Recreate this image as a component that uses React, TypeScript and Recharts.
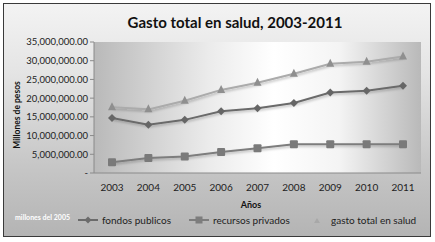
import React from 'react';
import { LineChart, Line, XAxis, YAxis, CartesianGrid } from 'recharts';

const years = ['2003', '2004', '2005', '2006', '2007', '2008', '2009', '2010', '2011'];
const fondosPublicos = [14.7, 12.9, 14.2, 16.5, 17.3, 18.7, 21.5, 22.0, 23.3];
const recursosPrivados = [2.9, 4.0, 4.4, 5.6, 6.6, 7.7, 7.7, 7.7, 7.7];
const gastoTotal = [17.6, 17.0, 19.3, 22.2, 24.1, 26.5, 29.2, 29.7, 31.1];
const yTicks = [0, 5, 10, 15, 20, 25, 30, 35];

const data = years.map((year, i) => ({
  year,
  fondos: fondosPublicos[i] * 1000000,
  privados: recursosPrivados[i] * 1000000,
  total: gastoTotal[i] * 1000000,
}));

const FONT = 'Lato, "Open Sans", sans-serif';

const fmtY = (v: number) =>
  v === 0 ? '-' : v.toLocaleString('en-US', { minimumFractionDigits: 2, maximumFractionDigits: 2 });

const Diamond = (props: any) => {
  const { cx, cy, fill } = props;
  if (cx == null || cy == null) return null;
  const r = 4;
  return <polygon points={`${cx},${cy - r} ${cx + r},${cy} ${cx},${cy + r} ${cx - r},${cy}`} fill={fill} />;
};

const Square = (props: any) => {
  const { cx, cy, fill } = props;
  if (cx == null || cy == null) return null;
  return <rect x={cx - 4} y={cy - 4} width={8} height={8} rx={1} fill={fill} />;
};

const Triangle = (props: any) => {
  const { cx, cy, fill } = props;
  if (cx == null || cy == null) return null;
  return <polygon points={`${cx},${cy - 5} ${cx + 4},${cy + 3} ${cx - 4},${cy + 3}`} fill={fill} />;
};

const legendItems = [
  { label: 'fondos publicos', color: '#6b6b6b', shape: 'diamond', left: 78 },
  { label: 'recursos privados', color: '#7d7d7d', shape: 'square', left: 189 },
  { label: 'gasto total en salud', color: '#a3a3a3', shape: 'triangle', left: 307 },
];

const LegendMark: React.FC<{ shape: string; color: string }> = ({ shape, color }) => (
  <svg width={20} height={10} style={{ verticalAlign: 'middle' }}>
    {shape !== 'triangle' && <line x1={0} y1={5} x2={20} y2={5} stroke={color} strokeWidth={2} />}
    {shape === 'diamond' && <polygon points="10,1.5 13.5,5 10,8.5 6.5,5" fill={color} />}
    {shape === 'square' && <rect x={6.5} y={1.5} width={7} height={7} fill={color} />}
    {shape === 'triangle' && <polygon points="10,3 13,8 7,8" fill="#a8a8a8" />}
  </svg>
);

export default function App() {
  return (
    <div style={{ position: 'absolute', left: 0, top: 0, width: 435, height: 242, background: '#fff', fontFamily: FONT }}>
      <div
        style={{
          position: 'absolute', left: 3, top: 3, width: 426, height: 232,
          border: '1px solid #3a3a3a',
          background: 'linear-gradient(to bottom, #f3f3f3 0%, #e4e4e4 30%, #c6c6c6 70%, #b4b4b4 100%)',
        }}
      />
      <LineChart
        width={435}
        height={242}
        data={data}
        margin={{ top: 42, right: 14, bottom: 39, left: 0 }}
        style={{ position: 'absolute', left: 0, top: 0 }}
      >
        <defs>
          <linearGradient id="plotGrad" x1="0" y1="0" x2="1" y2="0">
            <stop offset="0%" stopColor="#b9b9b9" />
            <stop offset="35%" stopColor="#ebebeb" />
            <stop offset="55%" stopColor="#ffffff" />
            <stop offset="75%" stopColor="#f4f4f4" />
            <stop offset="100%" stopColor="#b9b9b9" />
          </linearGradient>
          <filter id="shadow" x="-5%" y="-20%" width="110%" height="140%">
            <feDropShadow dx="1" dy="1.5" stdDeviation="1" floodColor="#000" floodOpacity="0.25" />
          </filter>
        </defs>
        <CartesianGrid horizontal={false} vertical={false} fill="url(#plotGrad)" />
        <XAxis
          dataKey="year"
          height={30}
          padding={{ left: 18, right: 18 }}
          axisLine={{ stroke: '#8a8a8a' }}
          tickLine={false}
          tick={{ fill: '#222', fontSize: 10, fontFamily: FONT }}
          dy={3}
        />
        <YAxis
          width={94}
          domain={[0, 35000000]}
          ticks={yTicks.map((t) => t * 1000000)}
          tickFormatter={fmtY}
          axisLine={{ stroke: '#8a8a8a' }}
          tickLine={{ stroke: '#8a8a8a' }}
          tickSize={4}
          tick={{ fill: '#222', fontSize: 9.5, fontFamily: FONT }}
          interval={0}
        />
        <Line
          dataKey="total"
          stroke="#ababab"
          strokeWidth={2}
          dot={<Triangle fill="#8f8f8f" />}
          isAnimationActive={false}
          filter="url(#shadow)"
        />
        <Line
          dataKey="fondos"
          stroke="#6b6b6b"
          strokeWidth={2}
          dot={<Diamond fill="#666" />}
          isAnimationActive={false}
          filter="url(#shadow)"
        />
        <Line
          dataKey="privados"
          stroke="#7d7d7d"
          strokeWidth={2}
          dot={<Square fill="#7a7a7a" />}
          isAnimationActive={false}
          filter="url(#shadow)"
        />
      </LineChart>
      <div style={{ position: 'absolute', left: 235, top: 22, transform: 'translate(-50%, -50%)', fontSize: 15, fontWeight: 700, color: '#111', whiteSpace: 'nowrap' }}>
        Gasto total en salud, 2003-2011
      </div>
      <div
        style={{
          position: 'absolute', left: 16.5, top: 115, transform: 'translate(-50%, -50%) rotate(-90deg)',
          fontSize: 8.5, fontWeight: 700, whiteSpace: 'nowrap', color: '#111',
        }}
      >
        Millones de pesos
      </div>
      <div style={{ position: 'absolute', left: 251, top: 204, transform: 'translate(-50%, -50%)', fontSize: 9, fontWeight: 700, color: '#111' }}>
        Años
      </div>
      <div style={{ position: 'absolute', left: 15, top: 213, fontSize: 7, fontWeight: 700, color: '#fff', whiteSpace: 'nowrap' }}>
        millones del 2005
      </div>
      {legendItems.map((item) => (
        <div
          key={item.label}
          style={{ position: 'absolute', left: item.left, top: 214, fontSize: 10, color: '#222', whiteSpace: 'nowrap', display: 'flex', alignItems: 'center', gap: 4 }}
        >
          <LegendMark shape={item.shape} color={item.color} />
          <span>{item.label}</span>
        </div>
      ))}
    </div>
  );
}
